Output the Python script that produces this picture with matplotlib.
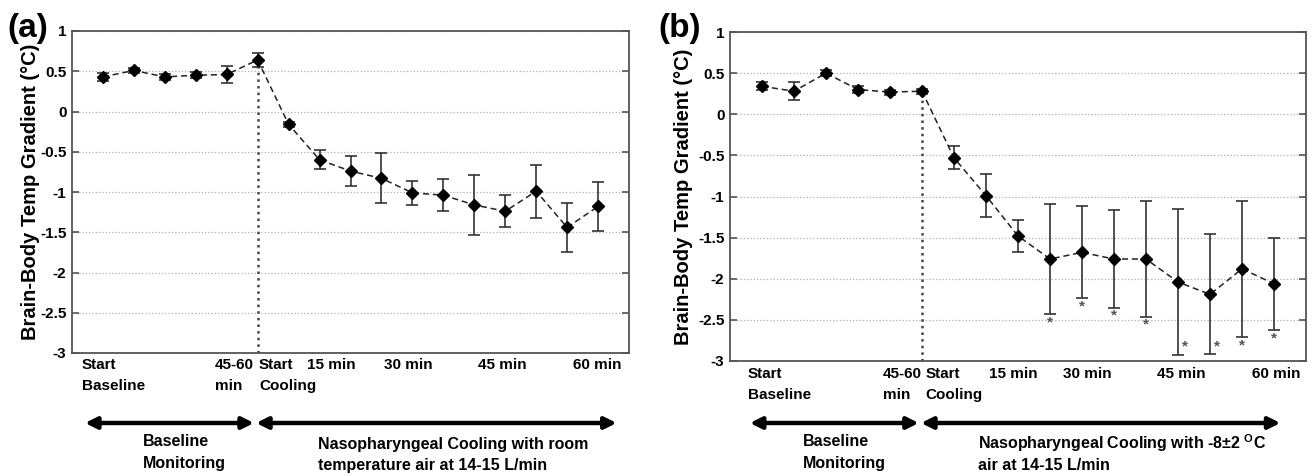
import numpy as np
import matplotlib
matplotlib.use('Agg')
import matplotlib.pyplot as plt

plt.rcParams['font.family'] = ['Liberation Sans', 'DejaVu Sans']
plt.rcParams['font.weight'] = 'bold'
plt.rcParams['mathtext.fontset'] = 'custom'
plt.rcParams['mathtext.rm'] = 'Liberation Sans:bold'
plt.rcParams['mathtext.bf'] = 'Liberation Sans:bold'

# time points (baseline 1-6, cooling 7-17)
time_idx = np.arange(1, 18)

# (a) cooling with room temperature air
mean_a = [0.43, 0.51, 0.43, 0.45, 0.46, 0.64, -0.16, -0.60, -0.74, -0.83,
          -1.01, -1.04, -1.16, -1.24, -0.99, -1.44, -1.18]
err_a = [0.05, 0.03, 0.04, 0.04, 0.10, 0.09, 0.03, 0.12, 0.19, 0.31,
         0.15, 0.20, 0.37, 0.20, 0.33, 0.30, 0.30]

# (b) cooling with -8 +/- 2 C air
mean_b = [0.34, 0.28, 0.50, 0.30, 0.27, 0.28, -0.53, -0.99, -1.48, -1.76,
          -1.68, -1.76, -1.76, -2.04, -2.19, -1.88, -2.06]
err_b = [0.05, 0.11, 0.04, 0.04, 0.03, 0.03, 0.14, 0.26, 0.19, 0.67,
         0.56, 0.59, 0.70, 0.89, 0.73, 0.83, 0.56]
signif_b = [9, 10, 11, 12, 13, 14, 15, 16]   # indices marked with *

yticks = np.arange(-3, 1.01, 0.5)
xlab_text = ['Start\nBaseline', '45-60\nmin', 'Start\nCooling',
             '15 min', '30 min', '45 min', '60 min']
base_text = 'Baseline\nMonitoring'
cool_text_a = 'Nasopharyngeal Cooling with room\ntemperature air at 14-15 L/min'
cool_text_b = 'Nasopharyngeal Cooling with -8\u00b12 $^{\\mathbf{O}}$C\nair at 14-15 L/min'

W, H = 1314, 476
fig = plt.figure(figsize=(W / 100, H / 100), dpi=100)


def draw_panel(box, mean, err, xlab_pos, xlab_base, arrow_py, arrows,
               txt_pos, cool_text, letter, letter_x, ylab_x, stars=()):
    l, t, r, b = box
    ax = fig.add_axes([l / W, 1 - b / H, (r - l) / W, (b - t) / H])
    ax.set_xlim(0, 18)
    ax.set_ylim(-3, 1)
    ax.set_yticks(yticks)
    ax.set_yticklabels(['%g' % v for v in yticks], fontsize=11)
    ax.set_xticks([])
    ax.tick_params(axis='y', direction='in', length=5, width=1.2,
                   left=True, right=True, color='#555555', pad=4)
    for s in ax.spines.values():
        s.set_color('#555555')
        s.set_linewidth(1.3)
    ax.grid(axis='y', linestyle=':', color='#b0b0b0', linewidth=0.9)
    ax.set_axisbelow(True)

    def ay(py):
        # pixel row -> axes fraction
        return (b - py) / (b - t)

    # start of cooling
    ax.vlines(time_idx[5], -3, mean[5], colors='#444444', linestyles=':', linewidth=1.8)

    ax.errorbar(time_idx, mean, yerr=err, fmt='none', ecolor='#333333',
                elinewidth=1.2, capsize=4.5, capthick=1.2)
    ax.plot(time_idx, mean, color='#222222', linestyle=(0, (4, 2.5)), linewidth=1.1)
    ax.plot(time_idx, mean, linestyle='none', marker='D', markersize=6.5,
            color='black')

    for i in stars:
        lo = mean[i] - err[i]
        if i in (13, 14):
            off = (5, 6)
        else:
            off = (0, -6)
        ax.annotate('*', (time_idx[i], lo), xytext=off, textcoords='offset points',
                    ha='center', va='center', fontsize=11, color='#555555')

    tr = ax.get_xaxis_transform()
    for txt, xp in zip(xlab_text, xlab_pos):
        for k, line in enumerate(txt.split('\n')):
            ax.text(xp, ay(xlab_base + 21 * k), line, transform=tr, ha='left',
                    va='baseline', fontsize=11)

    for x0, x1 in arrows:
        ax.annotate('', xy=(x1, ay(arrow_py)), xytext=(x0, ay(arrow_py)), xycoords=tr,
                    textcoords=tr, annotation_clip=False,
                    arrowprops=dict(arrowstyle='<|-|>', lw=3.2, color='black',
                                    mutation_scale=17, shrinkA=0, shrinkB=0))
    for k, line in enumerate(base_text.split('\n')):
        ax.text(txt_pos[0], ay(446 + 22 * k), line, transform=tr, ha='left',
                va='baseline', fontsize=11.5)
    for k, line in enumerate(cool_text.split('\n')):
        ax.text(txt_pos[1], ay(449 + 21 * k), line, transform=tr, ha='left',
                va='baseline', fontsize=11.5)

    fig.text(letter_x / W, 1 - 28 / H, letter, fontsize=24, weight='bold',
             ha='left', va='center')
    fig.text(ylab_x / W, 1 - (t + b) / 2 / H, 'Brain-Body Temp Gradient (\u00b0C)',
             rotation=90, weight='bold', fontsize=14.5,
             ha='center', va='center')
    return ax


draw_panel((72, 31, 629, 353), mean_a, err_a,
           [0.32, 4.62, 6.04, 7.6, 10.08, 13.12, 16.19], 369,
           423, [(0.42, 5.88), (5.95, 17.6)], (2.29, 7.95),
           cool_text_a, '(a)', 7, 31)

draw_panel((730, 32, 1306, 361), mean_b, err_b,
           [0.56, 4.78, 6.12, 8.09, 10.4, 13.34, 16.31], 378,
           423, [(0.62, 5.9), (5.97, 17.2)], (2.28, 7.75),
           cool_text_b, '(b)', 658, 683, stars=signif_b)

fig.savefig('out.png', dpi=100)
